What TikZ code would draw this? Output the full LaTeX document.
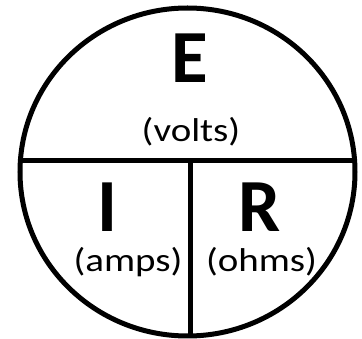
\documentclass[tikz,border=0pt]{standalone}
\usepackage{fontspec}
\usepackage{graphicx}
\setmainfont{Carlito}
\newcommand{\wide}[1]{\scalebox{1.18}[1]{#1}}
\begin{document}
\begin{tikzpicture}[x=1pt,y=-1pt,
  ring/.style={line width=5pt},
  big/.style={anchor=base,inner sep=0pt,text depth=0pt,font=\fontsize{75}{75}\selectfont\bfseries},
  unit/.style={anchor=base,inner sep=0pt,font=\fontsize{33}{33}\selectfont}]
\useasboundingbox (0,0) rectangle (362,339);
\coordinate (c) at (187.5,172);
\draw[ring] (c) ellipse [x radius=167.5, y radius=164];
\coordinate (hl) at (20,161);
\coordinate (hr) at (355,161);
\coordinate (vt) at (190,161);
\coordinate (vb) at (190,336);
\draw[ring] (hl) -- (hr);
\draw[ring] (vt) -- (vb);
\node[big] (E) at (190,83) {E};
\node[unit] (volts) at (191,142) {\wide{(volts)}};
\node[big] (I) at (107.5,232) {I};
\node[unit] (amps) at (128,272) {\wide{(amps)}};
\node[big] (R) at (260,232) {R};
\node[unit] (ohms) at (261.5,272) {\wide{(ohms)}};
\end{tikzpicture}
\end{document}
